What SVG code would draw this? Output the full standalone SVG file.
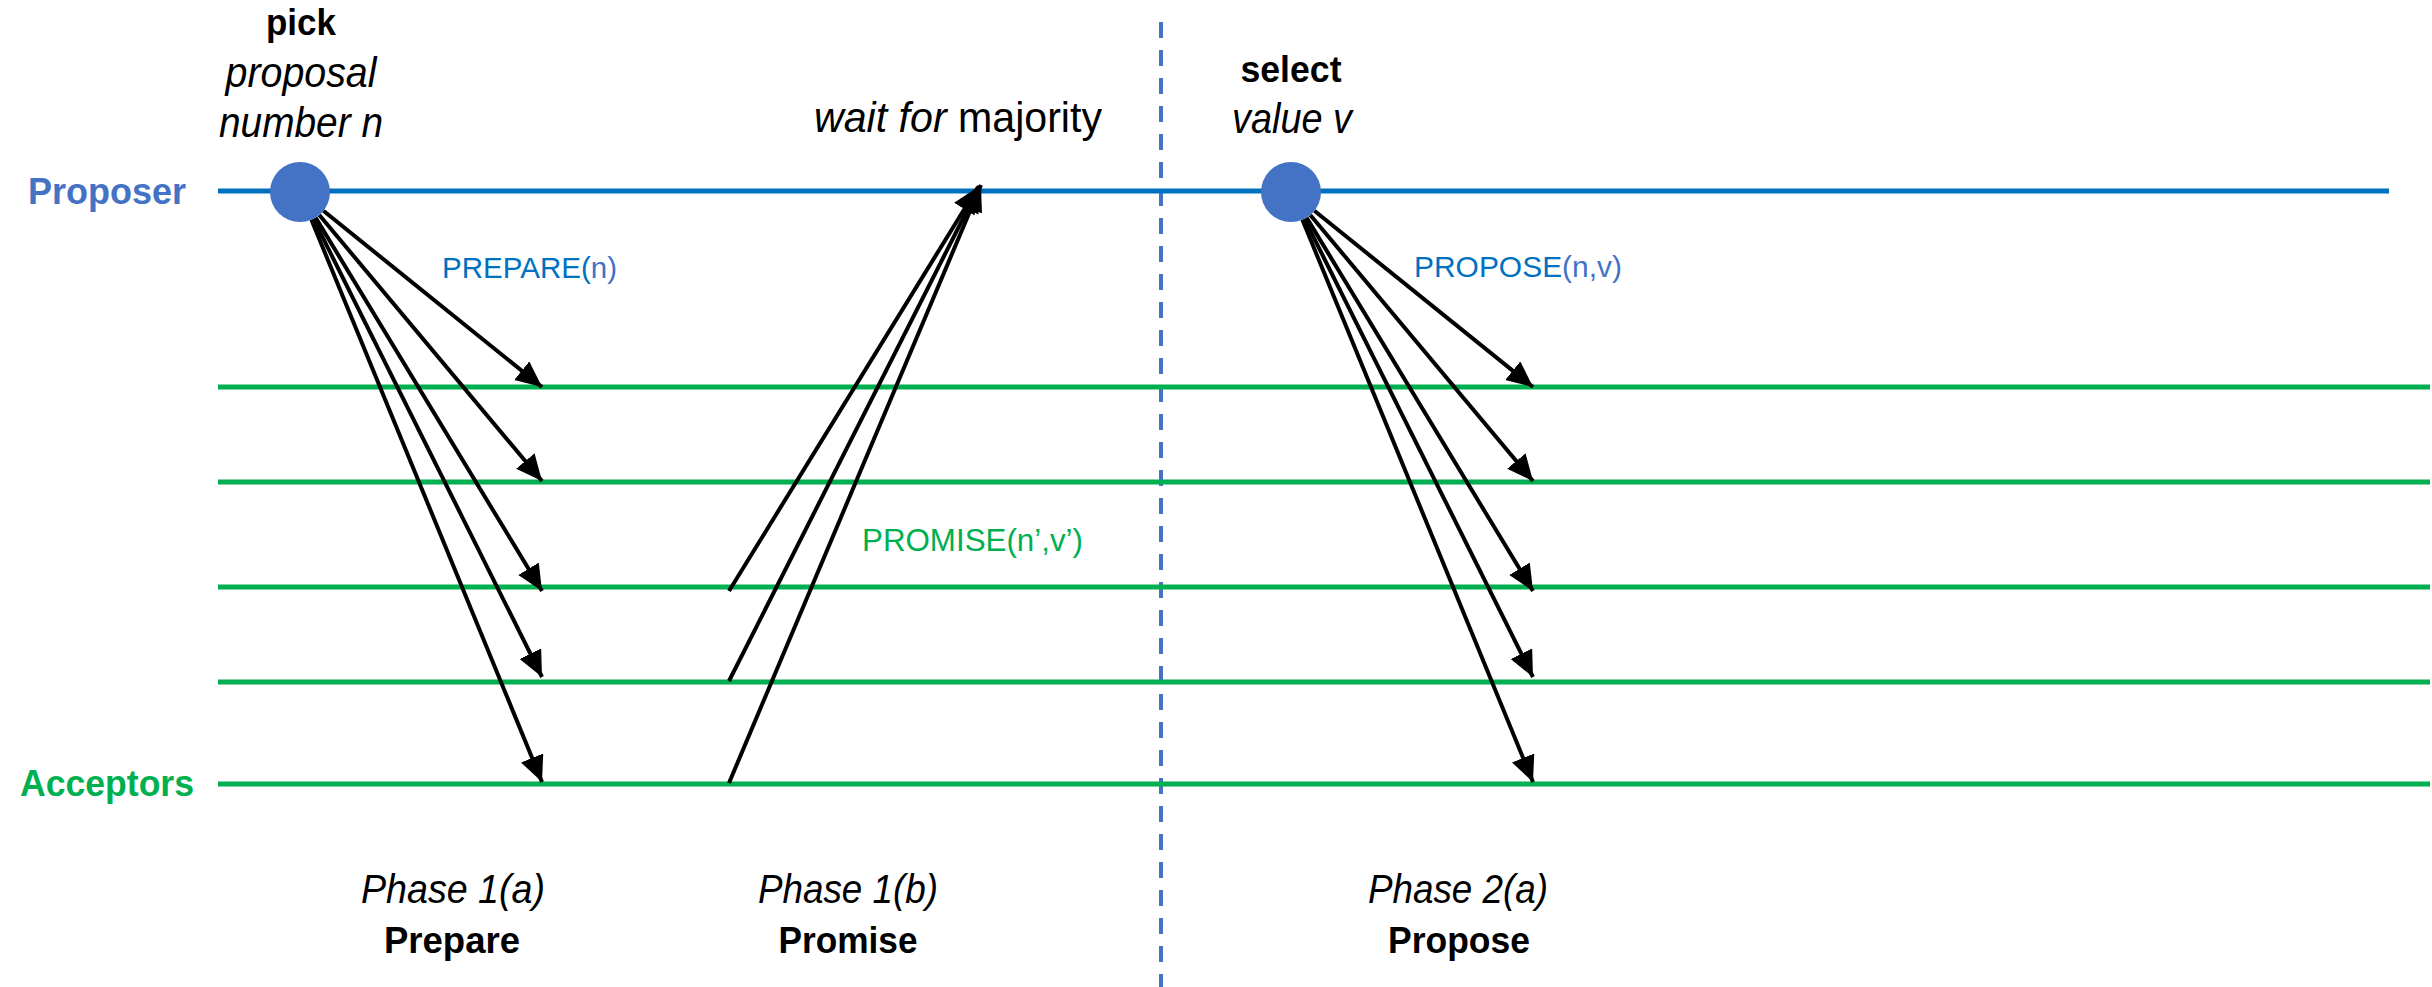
<svg xmlns="http://www.w3.org/2000/svg" width="2432" height="987" viewBox="0 0 2432 987">
  <style>
    text { font-family: "Liberation Sans", Arial, sans-serif; }
    .b { font-weight: bold; }
    .i { font-style: italic; }
    .k { fill: #000000; }
    .blue { fill: #4472C4; }
    .dblue { fill: #0070C0; }
    .green { fill: #00B050; }
    .prop-line { stroke: #0070C0; stroke-width: 5; fill: none; }
    .acc-line { stroke: #00B050; stroke-width: 5; fill: none; }
    .divider { stroke: #4472C4; stroke-width: 4; stroke-dasharray: 16 12; fill: none; }
    .msg { stroke: #000000; stroke-width: 4; fill: none; }
    .arrow { marker-end: url(#head); }
  </style>
  <defs>
    <marker id="head" markerUnits="userSpaceOnUse" markerWidth="28" markerHeight="26" refX="26" refY="12" orient="auto">
      <path d="M0,0 L26,12 L0,24 z" fill="#000000"/>
    </marker>
  </defs>

  <rect width="2432" height="987" fill="#ffffff"/>

  <!-- phase divider -->
  <line id="phase-divider" class="divider" x1="1161" y1="22" x2="1161" y2="987"/>

  <!-- proposer timeline -->
  <g id="proposer">
    <line class="prop-line" x1="218" y1="191" x2="2389" y2="191"/>
    <text class="b blue" x="28" y="204" font-size="37" textLength="158" lengthAdjust="spacingAndGlyphs">Proposer</text>
  </g>

  <!-- acceptor timelines -->
  <g id="acceptors">
    <line class="acc-line" x1="218" y1="387" x2="2430" y2="387"/>
    <line class="acc-line" x1="218" y1="482" x2="2430" y2="482"/>
    <line class="acc-line" x1="218" y1="587" x2="2430" y2="587"/>
    <line class="acc-line" x1="218" y1="682" x2="2430" y2="682"/>
    <line class="acc-line" x1="218" y1="784" x2="2430" y2="784"/>
    <text class="b green" x="20" y="796" font-size="37" textLength="174" lengthAdjust="spacingAndGlyphs">Acceptors</text>
  </g>

  <!-- message arrows -->
  <g id="connectors">
    <!-- PREPARE(n) broadcast -->
    <line class="msg arrow" x1="323.4" y1="210.8" x2="542" y2="387"/>
    <line class="msg arrow" x1="319.3" y1="215.0" x2="542" y2="481"/>
    <line class="msg arrow" x1="315.6" y1="217.6" x2="542" y2="591"/>
    <line class="msg arrow" x1="313.4" y1="218.8" x2="542" y2="677"/>
    <line class="msg arrow" x1="311.4" y1="219.8" x2="542" y2="782"/>
    <!-- PROMISE replies from a majority -->
    <line class="msg arrow" x1="729" y1="591" x2="978" y2="187"/>
    <line class="msg arrow" x1="729" y1="681" x2="979.5" y2="186"/>
    <line class="msg arrow" x1="729" y1="783" x2="981" y2="185"/>
    <!-- PROPOSE(n,v) broadcast -->
    <line class="msg arrow" x1="1314.4" y1="210.8" x2="1533" y2="387"/>
    <line class="msg arrow" x1="1310.3" y1="215.0" x2="1533" y2="481"/>
    <line class="msg arrow" x1="1306.6" y1="217.6" x2="1533" y2="591"/>
    <line class="msg arrow" x1="1304.4" y1="218.8" x2="1533" y2="677"/>
    <line class="msg arrow" x1="1302.4" y1="219.8" x2="1533" y2="782"/>
  </g>

  <!-- proposal event -->
  <g id="pick-node">
    <circle cx="300" cy="192" r="30" fill="#4472C4"/>
    <text class="b k" x="301" y="35" font-size="37" text-anchor="middle" textLength="70" lengthAdjust="spacingAndGlyphs">pick</text>
    <text class="i k" x="301" y="87" font-size="42" text-anchor="middle" textLength="151" lengthAdjust="spacingAndGlyphs">proposal</text>
    <text class="i k" x="301" y="137" font-size="42" text-anchor="middle" textLength="164" lengthAdjust="spacingAndGlyphs">number n</text>
  </g>

  <!-- value selection event -->
  <g id="select-node">
    <circle cx="1291" cy="192" r="30" fill="#4472C4"/>
    <text class="b k" x="1291" y="82" font-size="37" text-anchor="middle" textLength="101" lengthAdjust="spacingAndGlyphs">select</text>
    <text class="i k" x="1292" y="133" font-size="42" text-anchor="middle" textLength="120" lengthAdjust="spacingAndGlyphs">value v</text>
  </g>

  <g id="majority-label">
    <text class="k" x="814" y="132" font-size="42" textLength="288" lengthAdjust="spacingAndGlyphs"><tspan class="i">wait for</tspan> majority</text>
  </g>

  <!-- message labels -->
  <g id="message-labels">
    <text x="442" y="278" font-size="30" textLength="175" lengthAdjust="spacingAndGlyphs"><tspan class="dblue">PREPARE(</tspan><tspan class="blue">n)</tspan></text>
    <text class="green" x="862" y="551" font-size="31" textLength="221" lengthAdjust="spacingAndGlyphs">PROMISE(n’,v’)</text>
    <text x="1414" y="277" font-size="30" textLength="208" lengthAdjust="spacingAndGlyphs"><tspan class="dblue">PROPOSE</tspan><tspan class="blue">(n,v)</tspan></text>
  </g>

  <!-- phase captions -->
  <g id="phase-1a">
    <text class="i k" x="453" y="903" font-size="40" text-anchor="middle" textLength="184" lengthAdjust="spacingAndGlyphs">Phase 1(a)</text>
    <text class="b k" x="452" y="953" font-size="37" text-anchor="middle" textLength="136" lengthAdjust="spacingAndGlyphs">Prepare</text>
  </g>
  <g id="phase-1b">
    <text class="i k" x="848" y="903" font-size="40" text-anchor="middle" textLength="180" lengthAdjust="spacingAndGlyphs">Phase 1(b)</text>
    <text class="b k" x="848" y="953" font-size="37" text-anchor="middle" textLength="139" lengthAdjust="spacingAndGlyphs">Promise</text>
  </g>
  <g id="phase-2a">
    <text class="i k" x="1458" y="903" font-size="40" text-anchor="middle" textLength="180" lengthAdjust="spacingAndGlyphs">Phase 2(a)</text>
    <text class="b k" x="1459" y="953" font-size="37" text-anchor="middle" textLength="142" lengthAdjust="spacingAndGlyphs">Propose</text>
  </g>
</svg>
